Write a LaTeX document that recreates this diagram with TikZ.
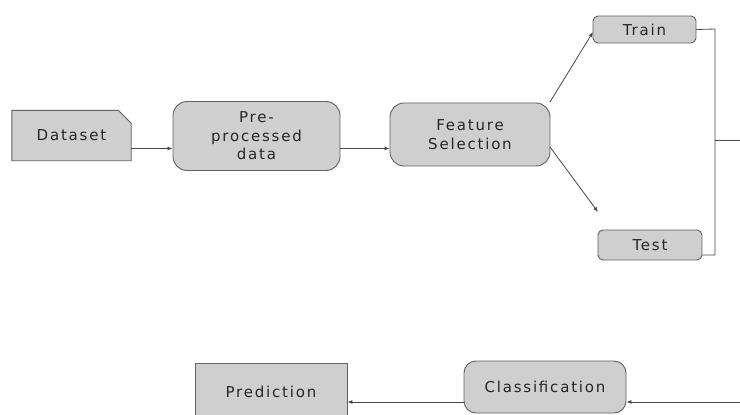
\documentclass[tikz,border=0pt]{standalone}
\usepackage{fontspec}
\setmainfont{DejaVu Sans}[LetterSpace=12]
\usetikzlibrary{arrows.meta,backgrounds}
\begin{document}
\begin{tikzpicture}[x=1pt,y=-1pt,
  boxline/.style={draw=black!62,line width=0.9pt,fill=black!19},
  txt/.style={text=black!85,font=\fontsize{15}{18.5}\selectfont,align=center,inner sep=0pt},
  rbox/.style={boxline,txt,rectangle,rounded corners=#1},
  conn/.style={draw=black!72,line width=0.8pt},
  arr/.style={conn,-{Latex[length=5pt,width=4pt]}}
]
\useasboundingbox (0,0) rectangle (740,415);
\clip (0,0) rectangle (740,415);

% Dataset (snipped corner)
\node[txt,minimum width=119pt,minimum height=50pt] (dat) at (71.5,135.5) {Dataset};
\begin{scope}[on background layer]
\filldraw[boxline] (dat.south west) -- (dat.north west) -- ([xshift=-13pt]dat.north east)
  -- ([yshift=-13pt]dat.north east) -- (dat.south east) -- cycle;
\end{scope}

\node[rbox=14pt,minimum width=167pt,minimum height=69pt] (pre) at (256.5,136) {Pre-\\processed\\data};
\node[rbox=14pt,minimum width=160pt,minimum height=63pt] (feat) at (470,134.5) {Feature\\Selection};
\node[rbox=5pt,minimum width=103pt,minimum height=27pt] (train) at (644.5,29.5) {Train};
\node[rbox=5pt,minimum width=104pt,minimum height=30pt] (test) at (650,245) {Test};
\node[boxline,txt,rectangle,minimum width=152pt,minimum height=58pt] (pred) at (271,392) {Prediction};
\node[rbox=12pt,minimum width=162pt,minimum height=52pt] (cls) at (545,387) {Classification};

% connectors
\coordinate (r1) at (0,148.5);
\draw[arr] (dat.east |- r1) -- (pre.west |- r1);
\draw[arr] (pre.east |- r1) -- (feat.west |- r1);

\coordinate (ts) at (550,102);
\coordinate (te) at (593,32);
\draw[arr] (ts) -- (te);
\coordinate (ss) at (550,147);
\coordinate (se) at (598,212);
\draw[arr] (ss) -- (se);

\coordinate (bt) at (715,29);
\coordinate (bb) at (715,255);
\coordinate (out) at (740,140);
\draw[conn] (train.east) -- (bt) -- (bb) -- (test.east |- bb);
\draw[conn] (bt |- out) -- (out);

\coordinate (in) at (740,402);
\draw[arr] (in) -- (cls.east |- in);
\draw[arr] (cls.west |- in) -- (pred.east |- in);
\end{tikzpicture}
\end{document}
